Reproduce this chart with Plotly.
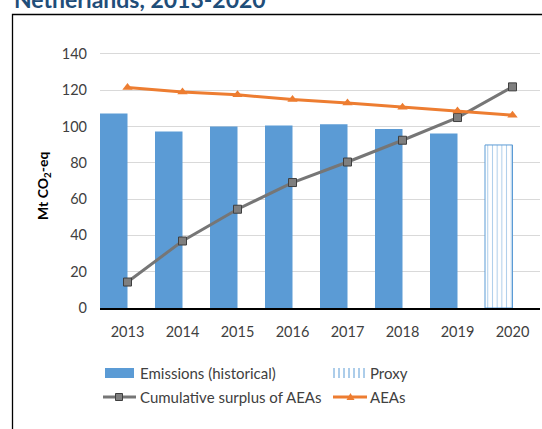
import plotly.graph_objects as go

# Netherlands: emissions vs. annual emission allocations (AEAs), Mt CO2-eq
years = ["2013", "2014", "2015", "2016", "2017", "2018", "2019", "2020"]
hist_years = ["2013", "2014", "2015", "2016", "2017", "2018", "2019"]
emissions_hist = [107.1, 97.2, 99.9, 100.5, 101.2, 98.6, 96.1]
proxy_years = ["2020"]
emissions_proxy = [89.8]
cumulative_surplus = [14.3, 36.9, 54.4, 69.1, 80.4, 92.4, 104.9, 121.8]
aeas = [121.4, 119.0, 117.4, 114.8, 112.9, 110.6, 108.5, 106.2]
y_ticks = [0, 20, 40, 60, 80, 100, 120, 140]

BLUE = "#5B9BD5"
ORANGE = "#ED7D31"
GREY_LINE = "#767676"
GREY_MARK = "#7F7F7F"
TEXT = "#404040"
FONT = "Lato"

W, H = 542, 429
ML, MR, MT, MB = 100, 2, 52, 121
PW, PH = W - ML - MR, H - MT - MB


def px(x):
    return (x - ML) / PW


def py(y):
    return (H - MB - y) / PH


fig = go.Figure()

fig.add_trace(go.Bar(
    x=hist_years, y=emissions_hist, name="Emissions (historical)",
    width=0.5, offset=-0.5,
    marker=dict(color=BLUE, line=dict(width=0)),
))
fig.add_trace(go.Bar(
    x=proxy_years, y=emissions_proxy, name="Proxy",
    width=0.5, offset=-0.5,
    marker=dict(color="white", line=dict(color=BLUE, width=1),
                pattern=dict(shape="|", fgcolor=BLUE, bgcolor="white",
                             size=4.7, solidity=0.22)),
))
fig.add_trace(go.Scatter(
    x=years, y=cumulative_surplus, name="Cumulative surplus of AEAs",
    mode="lines+markers",
    line=dict(color=GREY_LINE, width=3),
    marker=dict(symbol="square", size=8, color=GREY_MARK,
                line=dict(color="#3F3F3F", width=1)),
))
fig.add_trace(go.Scatter(
    x=years, y=aeas, name="AEAs", mode="lines+markers",
    line=dict(color=ORANGE, width=3),
    marker=dict(symbol="triangle-up", size=9, color=ORANGE),
))

shapes = []
annotations = []

# outer chart frame (open to the right and bottom edges of the page)
shapes.append(dict(type="rect", xref="paper", yref="paper",
                   x0=px(12.5), x1=px(560), y0=py(440), y1=py(14.5),
                   line=dict(color="black", width=1.3), layer="below"))

# title, partly above the page edge
annotations.append(dict(text="<b>Netherlands, 2013-2020</b>", xref="paper", yref="paper",
                        x=px(12), y=py(-1), xanchor="left", yanchor="middle",
                        showarrow=False, font=dict(family=FONT, size=23, color="#1F4E79")))

# y-axis title
annotations.append(dict(text="<b>Mt CO<sub>2</sub>-eq</b>", xref="paper", yref="paper",
                        x=px(43), y=py(186), xanchor="center", yanchor="middle",
                        textangle=-90, showarrow=False,
                        font=dict(family=FONT, size=14, color="black")))

# legend, drawn by hand: row 1
LEG = 15
r1, r2 = 373, 397
shapes.append(dict(type="rect", xref="paper", yref="paper",
                   x0=px(105), x1=px(134), y0=py(r1 + 5), y1=py(r1 - 5),
                   fillcolor=BLUE, line=dict(width=0)))
annotations.append(dict(text="Emissions (historical)", xref="paper", yref="paper",
                        x=px(138), y=py(r1), xanchor="left", yanchor="middle",
                        showarrow=False, font=dict(family=FONT, size=LEG, color=TEXT)))
for k in range(7):
    xx = 334 + k * 5
    shapes.append(dict(type="line", xref="paper", yref="paper",
                       x0=px(xx), x1=px(xx), y0=py(r1 + 5), y1=py(r1 - 5),
                       line=dict(color=BLUE, width=1)))
annotations.append(dict(text="Proxy", xref="paper", yref="paper",
                        x=px(368), y=py(r1), xanchor="left", yanchor="middle",
                        showarrow=False, font=dict(family=FONT, size=LEG, color=TEXT)))
# legend row 2
shapes.append(dict(type="line", xref="paper", yref="paper",
                   x0=px(103), x1=px(136), y0=py(r2), y1=py(r2),
                   line=dict(color=GREY_LINE, width=3)))
shapes.append(dict(type="rect", xref="paper", yref="paper",
                   x0=px(115.5), x1=px(122.5), y0=py(r2 + 3.5), y1=py(r2 - 3.5),
                   fillcolor=GREY_MARK, line=dict(color="#3F3F3F", width=1)))
annotations.append(dict(text="Cumulative surplus of AEAs", xref="paper", yref="paper",
                        x=px(138), y=py(r2), xanchor="left", yanchor="middle",
                        showarrow=False, font=dict(family=FONT, size=LEG, color=TEXT)))
shapes.append(dict(type="line", xref="paper", yref="paper",
                   x0=px(333), x1=px(367), y0=py(r2), y1=py(r2),
                   line=dict(color=ORANGE, width=3)))
shapes.append(dict(type="path", xref="paper", yref="paper",
                   path=f"M {px(346.5)},{py(r2 + 3)} L {px(354.5)},{py(r2 + 3)} L {px(350.5)},{py(r2 - 4)} Z",
                   fillcolor=ORANGE, line=dict(width=0)))
annotations.append(dict(text="AEAs", xref="paper", yref="paper",
                        x=px(368), y=py(r2), xanchor="left", yanchor="middle",
                        showarrow=False, font=dict(family=FONT, size=LEG, color=TEXT)))

fig.update_layout(
    width=W, height=H,
    margin=dict(l=ML, r=MR, t=MT, b=MB, pad=0),
    paper_bgcolor="white", plot_bgcolor="white",
    showlegend=False,
    barmode="overlay",
    font=dict(family=FONT, size=14, color=TEXT),
    shapes=shapes, annotations=annotations,
    xaxis=dict(type="category", categoryorder="array", categoryarray=years,
               range=[-0.5, 7.5], showgrid=False, showline=True,
               linecolor="black", linewidth=1.5, ticks="",
               ticklabelstandoff=10, tickfont=dict(family=FONT, size=14.5, color=TEXT)),
    yaxis=dict(range=[0, 141], tickvals=y_ticks, showgrid=True, gridcolor="#D9D9D9",
               gridwidth=1, zeroline=False, showline=False, ticks="",
               ticklabelstandoff=12, tickfont=dict(family=FONT, size=14.5, color=TEXT)),
)

fig.write_html("out.html")
